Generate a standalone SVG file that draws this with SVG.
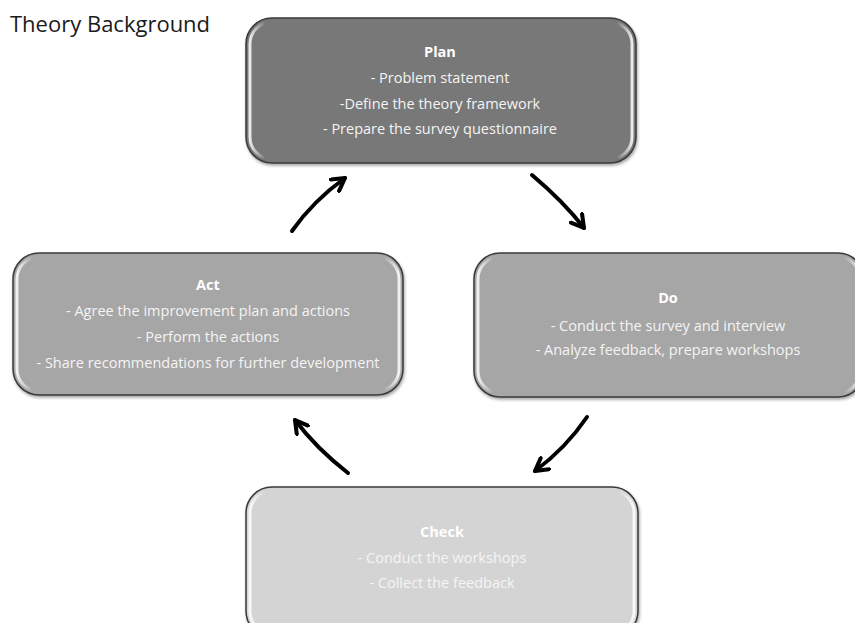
<svg xmlns="http://www.w3.org/2000/svg" width="855" height="623" viewBox="0 0 855 623">
  <defs>
    <style>
      .box { stroke: #3a3a3a; stroke-width: 1.5; }
      .gloss { fill: none; stroke: url(#edgeLight); stroke-width: 3; }
      .title { font-family: "Open Sans", "Liberation Sans", Arial, sans-serif; font-size: 14.5px; font-weight: bold; fill: #ffffff; text-anchor: middle; }
      .line { font-family: "Open Sans", "Liberation Sans", Arial, sans-serif; font-size: 14.5px; fill: #f4f4f4; text-anchor: middle; }
      .arrow { fill: none; stroke: #000; stroke-width: 4; stroke-linecap: round; marker-end: url(#head); }
      .heading { font-family: "Open Sans", "Liberation Sans", Arial, sans-serif; font-size: 22px; fill: #1a1a1a; }
    </style>
    <linearGradient id="edgeLight" x1="0" y1="0" x2="1" y2="0">
      <stop offset="0" stop-color="#ffffff" stop-opacity="0.85"/>
      <stop offset="0.04" stop-color="#ffffff" stop-opacity="0"/>
      <stop offset="0.96" stop-color="#ffffff" stop-opacity="0"/>
      <stop offset="1" stop-color="#ffffff" stop-opacity="0.85"/>
    </linearGradient>
    <filter id="shadow" x="-5%" y="-5%" width="110%" height="115%">
      <feDropShadow dx="1" dy="2" stdDeviation="1.5" flood-color="#000" flood-opacity="0.35"/>
    </filter>
    <marker id="head" viewBox="0 0 10 10" refX="8" refY="5" markerWidth="4.4" markerHeight="4.4" orient="auto" markerUnits="strokeWidth">
      <path d="M1,1 L8,5 L1,9" fill="none" stroke="#000" stroke-width="2.3" stroke-linecap="round" stroke-linejoin="round"/>
    </marker>
  </defs>

  <rect width="855" height="623" fill="#ffffff"/>

  <text class="heading" x="10" y="32">Theory Background</text>

  <!-- Plan -->
  <g id="plan">
    <rect class="box" x="246" y="18" width="390" height="145" rx="26" fill="#787878" filter="url(#shadow)"/>
    <rect class="gloss" x="250" y="22" width="382" height="137" rx="22"/>
    <text class="title" x="440" y="57">Plan</text>
    <text class="line" x="440" y="83">- Problem statement</text>
    <text class="line" x="440" y="109">-Define the theory framework</text>
    <text class="line" x="440" y="134">- Prepare the survey questionnaire</text>
  </g>

  <!-- Act -->
  <g id="act">
    <rect class="box" x="13" y="253" width="390" height="142" rx="26" fill="#a6a6a6" filter="url(#shadow)"/>
    <rect class="gloss" x="17" y="257" width="382" height="134" rx="22"/>
    <text class="title" x="208" y="290">Act</text>
    <text class="line" x="208" y="316">- Agree the improvement plan and actions</text>
    <text class="line" x="208" y="342">- Perform the actions</text>
    <text class="line" x="208" y="368">- Share recommendations for further development</text>
  </g>

  <!-- Do -->
  <g id="do">
    <rect class="box" x="474" y="253" width="390" height="144" rx="26" fill="#a6a6a6" filter="url(#shadow)"/>
    <rect class="gloss" x="478" y="257" width="382" height="136" rx="22"/>
    <text class="title" x="668" y="303">Do</text>
    <text class="line" x="668" y="331">- Conduct the survey and interview</text>
    <text class="line" x="668" y="355">- Analyze feedback, prepare workshops</text>
  </g>

  <!-- Check -->
  <g id="check">
    <rect class="box" x="246" y="487" width="392" height="150" rx="26" fill="#d4d4d4" filter="url(#shadow)"/>
    <rect class="gloss" x="250" y="491" width="384" height="142" rx="22"/>
    <text class="title" x="442" y="537">Check</text>
    <text class="line" x="442" y="563">- Conduct the workshops</text>
    <text class="line" x="442" y="588">- Collect the feedback</text>
  </g>

  <!-- Cycle connectors -->
  <g id="connectors">
    <path class="arrow" d="M292,231 Q313,201 345,178"/>
    <path class="arrow" d="M532,175 Q564,202 584,228"/>
    <path class="arrow" d="M587,417 Q566,448 535,471"/>
    <path class="arrow" d="M348,473 Q316,448 295,420"/>
  </g>
</svg>
